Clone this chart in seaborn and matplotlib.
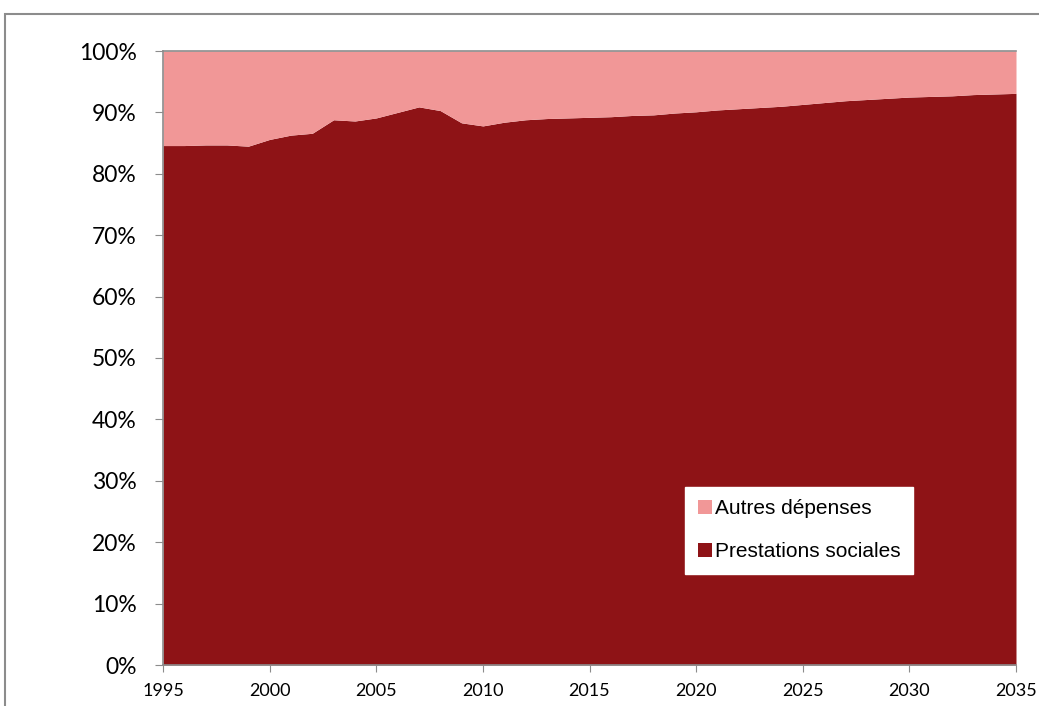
import numpy as np
import pandas as pd
import matplotlib
matplotlib.use("Agg")
import matplotlib.pyplot as plt
import seaborn as sns
from matplotlib.patches import Rectangle
from matplotlib.ticker import FuncFormatter

# Share of social benefits in total spending (%)
years = list(range(1995, 2036))
prestations = [
    84.6, 84.6, 84.7, 84.7, 84.5, 85.6, 86.3, 86.6, 88.8, 88.6,
    89.1, 90.0, 90.9, 90.3, 88.3, 87.8, 88.4, 88.8, 89.0, 89.1,
    89.2, 89.3, 89.5, 89.6, 89.9, 90.1, 90.4, 90.6, 90.8, 91.0,
    91.3, 91.6, 91.9, 92.1, 92.3, 92.5, 92.6, 92.7, 92.9, 93.0, 93.1,
]
autres = [100 - p for p in prestations]

df = pd.DataFrame({"year": years, "Prestations sociales": prestations,
                   "Autres dépenses": autres})

dark_red = "#8E1316"
pink = "#F19797"
grey = "#8C8C8C"

sns.set_style("white")
plt.rcParams["font.family"] = ["Lato", "DejaVu Sans"]
plt.rcParams["text.color"] = "black"
plt.rcParams["xtick.labelcolor"] = "black"
plt.rcParams["ytick.labelcolor"] = "black"

fig = plt.figure(figsize=(10.39, 7.06), dpi=100)
ax = fig.add_axes([163 / 1039, 1 - 665 / 706, (1016 - 163) / 1039, (665 - 51) / 706])

ax.stackplot(df["year"], df["Prestations sociales"], df["Autres dépenses"],
             colors=[dark_red, pink], labels=["Prestations sociales", "Autres dépenses"],
             linewidth=0)

ax.set_xlim(1995, 2035)
ax.set_ylim(0, 100)
ax.set_xticks(range(1995, 2036, 5))
ax.set_yticks(range(0, 101, 10))
ax.yaxis.set_major_formatter(FuncFormatter(lambda v, _: f"{int(v)}%"))
ax.tick_params(axis="y", labelsize=16.5, length=6, color=grey, direction="out", pad=13, left=True)
ax.tick_params(axis="x", labelsize=13, length=5, color=grey, direction="out", pad=8, bottom=True)
for s in ["left", "bottom", "top"]:
    ax.spines[s].set_color(grey)
    ax.spines[s].set_linewidth(1.2)
ax.spines["right"].set_visible(False)
ax.set_xlabel("")
ax.set_ylabel("")

# legend: pink first, dark red second
h, l = ax.get_legend_handles_labels()
leg = ax.legend(h[::-1], l[::-1], loc="upper left", bbox_to_anchor=(0.612, 0.29),
                frameon=True, fancybox=False, framealpha=1, edgecolor="white",
                facecolor="white", handlelength=0.7, handleheight=0.7,
                handletextpad=0.15, labelspacing=1.15, borderpad=0.6,
                borderaxespad=0,
                prop={"family": "Liberation Sans", "size": 15})

# outer chart frame
fig.patches.append(Rectangle((5 / 1039, -0.05), 1.1, 1 - 14 / 706 + 0.05,
                             transform=fig.transFigure, fill=False,
                             edgecolor=grey, linewidth=1.5))

fig.savefig("out.png", dpi=100)
